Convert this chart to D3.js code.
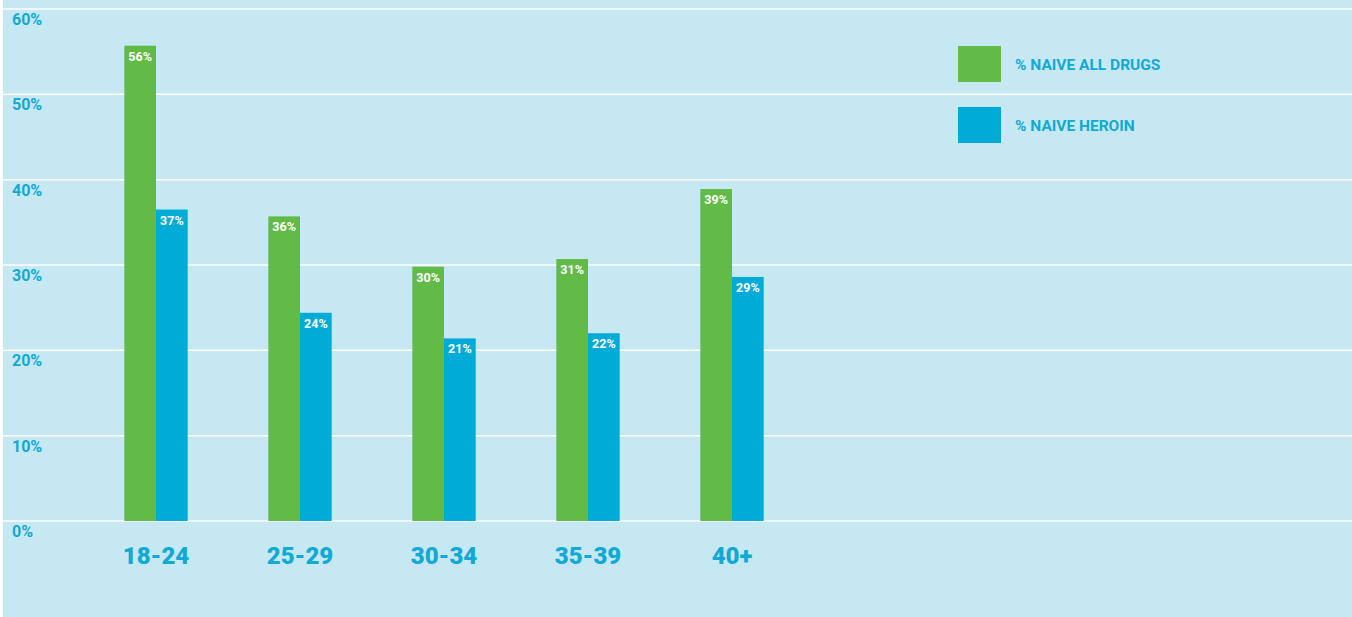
<!DOCTYPE html>
<html>
<head>
<meta charset="utf-8">
<script src="https://cdn.jsdelivr.net/npm/d3@7"></script>
<style>
  html, body { margin: 0; padding: 0; background: #fff; }
  svg { display: block; }
</style>
</head>
<body>
<div id="chart"></div>
<script>
const ageGroups = ["18-24", "25-29", "30-34", "35-39", "40+"];
const naiveAllDrugs = [55.7, 35.7, 29.8, 30.7, 38.9];
const naiveHeroin = [36.5, 24.4, 21.4, 22.0, 28.6];
const seriesNames = ["% NAIVE ALL DRUGS", "% NAIVE HEROIN"];
const yTicks = [0, 10, 20, 30, 40, 50, 60];

const width = 1352, height = 617;
const colors = ["#62bb46", "#00acd7"];
const blueText = "#12a9d5";

const svg = d3.select("#chart")
    .append("svg")
    .attr("width", width)
    .attr("height", height)
    .style("font-family", "Roboto, 'DejaVu Sans', sans-serif");

svg.append("rect")
    .attr("x", 3).attr("y", 0)
    .attr("width", width - 3).attr("height", height)
    .attr("fill", "#c6e8f2");

const y = d3.scaleLinear().domain([0, 60]).range([521, 9]);

const x0 = d3.scaleBand()
    .domain(ageGroups)
    .range([84, 804])
    .paddingInner(0.56)
    .paddingOuter(0.28);

const x1 = d3.scaleBand()
    .domain([0, 1])
    .range([0, x0.bandwidth()]);

// gridlines + tick labels
const grid = svg.append("g");
grid.selectAll("line")
    .data(yTicks)
    .join("line")
    .attr("x1", 3).attr("x2", width)
    .attr("y1", d => y(d)).attr("y2", d => y(d))
    .attr("stroke", "#fff")
    .attr("stroke-width", 1.5);

grid.selectAll("text")
    .data(yTicks)
    .join("text")
    .attr("x", 12)
    .attr("y", d => y(d) + 16)
    .attr("font-size", 16)
    .attr("font-weight", "bold")
    .attr("fill", blueText)
    .text(d => d + "%");

const rows = ageGroups.map((g, i) => ({
    group: g,
    values: [naiveAllDrugs[i], naiveHeroin[i]]
}));

const groups = svg.append("g")
    .selectAll("g")
    .data(rows)
    .join("g")
    .attr("transform", d => `translate(${x0(d.group)},0)`);

groups.selectAll("rect")
    .data(d => d.values.map((v, k) => ({ v, k })))
    .join("rect")
    .attr("x", d => x1(d.k))
    .attr("y", d => y(d.v))
    .attr("width", x1.bandwidth())
    .attr("height", d => y(0) - y(d.v))
    .attr("fill", d => colors[d.k]);

groups.selectAll("text.val")
    .data(d => d.values.map((v, k) => ({ v, k })))
    .join("text")
    .attr("class", "val")
    .attr("x", d => x1(d.k) + x1.bandwidth() / 2)
    .attr("y", d => y(d.v) + 15)
    .attr("text-anchor", "middle")
    .attr("font-size", 12.5)
    .attr("font-weight", "bold")
    .attr("fill", "#fff")
    .text(d => Math.round(d.v) + "%");

// category labels
svg.append("g")
    .selectAll("text")
    .data(ageGroups)
    .join("text")
    .attr("x", d => x0(d) + x0.bandwidth() / 2)
    .attr("y", 564)
    .attr("text-anchor", "middle")
    .attr("font-size", 24)
    .attr("font-weight", 900)
    .attr("fill", blueText)
    .text(d => d);

// legend
const legend = svg.append("g")
    .selectAll("g")
    .data(seriesNames)
    .join("g")
    .attr("transform", (d, i) => `translate(958,${46 + i * 61})`);

legend.append("rect")
    .attr("width", 43)
    .attr("height", 36)
    .attr("fill", (d, i) => colors[i]);

legend.append("text")
    .attr("x", 57)
    .attr("y", 24)
    .attr("font-size", 15.5)
    .attr("font-weight", "bold")
    .attr("fill", blueText)
    .text(d => d);
</script>
</body>
</html>
